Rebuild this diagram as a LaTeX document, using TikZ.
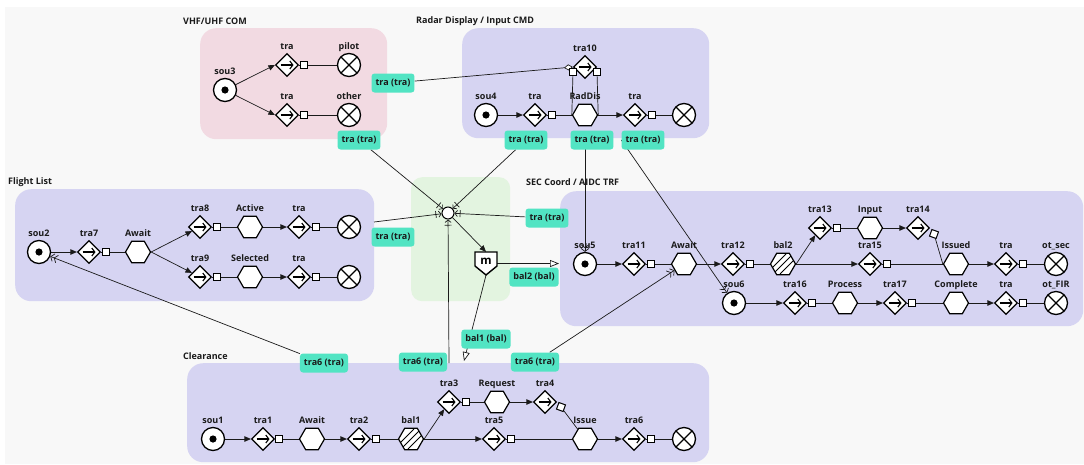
\documentclass[tikz,border=0pt]{standalone}
\usepackage{fontspec}
\setmainfont{Open Sans}
\usetikzlibrary{shapes.geometric,arrows.meta,calc}
\definecolor{bgc}{HTML}{F8F8F8}
\definecolor{pinkbox}{HTML}{F2DAE2}
\definecolor{lavbox}{HTML}{D6D4F2}
\definecolor{greenbox}{HTML}{E3F4E0}
\definecolor{tq}{HTML}{52E4C3}
\definecolor{ink}{HTML}{1A1A1A}
\pgfdeclarelayer{bg}\pgfdeclarelayer{edges}\pgfsetlayers{bg,edges,main}
\begin{document}
\begin{tikzpicture}[x=1pt,y=-1pt,
  font=\fontsize{9}{11}\selectfont\bfseries,
  lbl/.style={inner sep=0.5pt,text height=7pt,text depth=2pt,text=ink},
  tl/.style={label={[lbl,label distance=1pt]above:#1}},
  src/.style={circle,draw,line width=1.3pt,fill=white,minimum size=23pt,inner sep=0,
    path picture={\fill[black] (path picture bounding box.center) circle (3.6pt);}},
  snk/.style={circle,draw,line width=1.3pt,fill=white,minimum size=23pt,inner sep=0,
    path picture={\draw[line width=1.3pt] (path picture bounding box.north west) -- (path picture bounding box.south east)
      (path picture bounding box.north east) -- (path picture bounding box.south west);}},
  trn/.style={diamond,draw,line width=1.2pt,fill=white,minimum width=23pt,minimum height=23pt,inner sep=0,
    path picture={\draw[line width=1.1pt,-{Straight Barb[length=3pt,width=8pt]}]
      ([xshift=-6.5pt]path picture bounding box.center) -- ([xshift=6.5pt]path picture bounding box.center);}},
  sq/.style={rectangle,draw,line width=1pt,fill=white,minimum size=7pt,inner sep=0},
  hex/.style={regular polygon,regular polygon sides=6,draw,line width=1.2pt,fill=white,minimum size=25pt,inner sep=0},
  balh/.style={hex,path picture={\foreach \k in {-7,0,7}{\draw[line width=1pt]
      ([shift={(\k-10,10)}]path picture bounding box.center) -- ([shift={(\k+10,-10)}]path picture bounding box.center);}}},
  con/.style={line width=0.7pt,draw=ink},
  flow/.style={con,-{Triangle[length=6.5pt,width=5.5pt]}},
  hubin/.style={con,-{Bar[width=7pt,sep=2pt]Straight Barb[length=2.5pt,width=6pt]}},
  dbl/.style={con,-{Straight Barb[length=3pt,width=8pt]Straight Barb[length=3pt,width=8pt]}},
  opentri/.style={con,-{Triangle[length=9pt,width=7pt,fill=white]}},
  odia/.style={con,-{Diamond[length=9pt,width=6pt,fill=white]}},
  tag/.style={rectangle,rounded corners=3pt,fill=tq,inner xsep=4pt,inner ysep=0pt,minimum height=19pt,
    text height=7pt,text depth=2pt,text=ink},
  gbox/.style={rectangle,rounded corners=16pt,anchor=north west,inner sep=0},
  gtitle/.style={anchor=west,inner sep=0,text=ink}
]
\useasboundingbox (0,0) rectangle (1084,464);
\begin{pgfonlayer}{bg}
  \fill[white] (0,0) rectangle (1084,464);
  \fill[bgc] (5,7) rectangle (1084,464);
  \node[gbox,fill=pinkbox,minimum width=187pt,minimum height=111pt] (gVHF) at (200,28) {};
  \node[gbox,fill=lavbox,minimum width=247pt,minimum height=110pt] (gRad) at (462,28) {};
  \node[gbox,fill=lavbox,minimum width=359pt,minimum height=112pt] (gFl) at (15,189) {};
  \node[gbox,fill=greenbox,rounded corners=11pt,minimum width=99pt,minimum height=124pt] (gGr) at (411,177) {};
  \node[gbox,fill=lavbox,minimum width=523pt,minimum height=135pt] (gSEC) at (560,191) {};
  \node[gbox,fill=lavbox,minimum width=522pt,minimum height=99pt] (gClr) at (187,363) {};
\end{pgfonlayer}

% titles
\node[gtitle] (tVHF) at (183,21) {VHF/UHF COM};
\node[gtitle] (tRad) at (416,21) {Radar Display / Input CMD};
\node[gtitle] (tFl) at (8,182) {Flight List};
\node[gtitle] (tSEC) at (526,182) {SEC Coord / AIDC TRF};
\node[gtitle] (tClr) at (183,356) {Clearance};

% VHF
\node[src,tl=sou3] (sou3) at (225,90) {};
\node[trn,tl=tra] (v1) at (287,65) {}; \node[sq] (v1s) at (304,65) {};
\node[snk,tl=pilot] (pilot) at (349,65) {};
\node[trn,tl=tra] (v2) at (287,115) {}; \node[sq] (v2s) at (304,115) {};
\node[snk,tl=other] (other) at (349,115) {};

% Radar
\node[trn,tl=tra10] (tra10) at (585,67) {};
\node[sq] (t10l) at (573,72) {}; \node[sq] (t10r) at (597,72) {};
\node[src,tl=sou4] (sou4) at (486,115) {};
\node[trn,tl=tra] (r1) at (535,115) {}; \node[sq] (r1s) at (552,115) {};
\node[hex,tl=RadDis] (raddis) at (585,115) {};
\node[trn,tl=tra] (r2) at (635,115) {}; \node[sq] (r2s) at (652,115) {};
\node[snk] (rsink) at (684,115) {};

% Flight list
\node[src,tl=sou2] (sou2) at (39,252) {};
\node[trn,tl=tra7] (tra7) at (89,252) {}; \node[sq] (tra7s) at (106,252) {};
\node[hex,tl=Await] (awF) at (138,252) {};
\node[trn,tl=tra8] (tra8) at (200,227) {}; \node[sq] (tra8s) at (217,227) {};
\node[hex,tl=Active] (active) at (250,227) {};
\node[trn,tl=tra] (f1) at (299,227) {}; \node[sq] (f1s) at (316,227) {};
\node[snk] (fsink1) at (349,227) {};
\node[trn,tl=tra9] (tra9) at (200,277) {}; \node[sq] (tra9s) at (217,277) {};
\node[hex,tl=Selected] (selected) at (250,277) {};
\node[trn,tl=tra] (f2) at (299,277) {}; \node[sq] (f2s) at (316,277) {};
\node[snk] (fsink2) at (349,277) {};

% hub and merge
\node[circle,draw,line width=1pt,fill=white,minimum size=12pt,inner sep=0] (hub) at (448,213) {};
\draw[line width=1.4pt,fill=white] (475,252) -- (497,252) -- (497,266) -- (486,275) -- (475,266) -- cycle;
\node[rectangle,minimum width=22pt,minimum height=23pt,inner sep=0] (m) at (486,263.5) {};
\node[inner sep=0,font=\fontsize{11.5}{12}\selectfont\bfseries] (mtxt) at (486,261.5) {m};

% SEC
\node[src,tl=sou5] (sou5) at (585,264) {};
\node[trn,tl=tra11] (tra11) at (634,264) {}; \node[sq] (tra11s) at (651,264) {};
\node[hex,tl=Await] (awS) at (684,264) {};
\node[trn,tl=tra12] (tra12) at (733,264) {}; \node[sq] (tra12s) at (750,264) {};
\node[balh,tl=bal2] (bal2) at (783,264) {};
\node[trn,tl=tra13] (tra13) at (820,228) {}; \node[sq] (tra13s) at (837,228) {};
\node[hex,tl=Input] (input) at (870,228) {};
\node[trn,tl=tra14] (tra14) at (918,228) {}; \node[sq,rotate=-20] (tra14s) at (934,234) {};
\node[trn,tl=tra15] (tra15) at (870,264) {}; \node[sq] (tra15s) at (887,264) {};
\node[hex,tl=Issued] (issued) at (956,264) {};
\node[trn,tl=tra] (s1) at (1006,264) {}; \node[sq] (s1s) at (1023,264) {};
\node[snk,tl=ot\_sec] (otsec) at (1056,264) {};
\node[src,tl=sou6] (sou6) at (734,303) {};
\node[trn,tl=tra16] (tra16) at (795,303) {}; \node[sq] (tra16s) at (812,303) {};
\node[hex,tl=Process] (process) at (845,303) {};
\node[trn,tl=tra17] (tra17) at (895,303) {}; \node[sq] (tra17s) at (912,303) {};
\node[hex,tl=Complete] (complete) at (956,303) {};
\node[trn,tl=tra] (s2) at (1006,303) {}; \node[sq] (s2s) at (1023,303) {};
\node[snk,tl=ot\_FIR] (otfir) at (1056,303) {};

% Clearance
\node[src,tl=sou1] (sou1) at (213,439) {};
\node[trn,tl=tra1] (tra1) at (263,439) {}; \node[sq] (tra1s) at (279,439) {};
\node[hex,tl=Await] (awC) at (312,439) {};
\node[trn,tl=tra2] (tra2) at (359,439) {}; \node[sq] (tra2s) at (376,439) {};
\node[balh,tl=bal1] (bal1) at (411,439) {};
\node[trn,tl=tra3] (tra3) at (449,402) {}; \node[sq] (tra3s) at (466,402) {};
\node[hex,tl=Request] (request) at (497,402) {};
\node[trn,tl=tra4] (tra4) at (545,402) {}; \node[sq,rotate=-20] (tra4s) at (561,407) {};
\node[trn,tl=tra5] (tra5) at (494,439) {}; \node[sq] (tra5s) at (511,439) {};
\node[hex,tl=Issue] (issue) at (585,439) {};
\node[trn,tl=tra6] (tra6) at (634,439) {}; \node[sq] (tra6s) at (651,439) {};
\node[snk] (csink) at (684,439) {};

% tags
\node[tag] (tg1) at (393,83) {tra (tra)};
\node[tag] (tg2) at (359,140) {tra (tra)};
\node[tag] (tg3) at (526,140) {tra (tra)};
\node[tag] (tg4) at (592,140) {tra (tra)};
\node[tag] (tg5) at (643,140) {tra (tra)};
\node[tag] (tg6) at (393,237) {tra (tra)};
\node[tag] (tg7) at (547,218) {tra (tra)};
\node[tag] (tg8) at (534,277) {bal2 (bal)};
\node[tag] (tg9) at (486,339) {bal1 (bal)};
\node[tag] (tg10) at (324,363) {tra6 (tra)};
\node[tag] (tg11) at (423,362) {tra6 (tra)};
\node[tag] (tg12) at (535,362) {tra6 (tra)};

\coordinate (flc) at (374,222);
\coordinate (clc) at (449,363);
\coordinate (secin) at (559,263.5);
\coordinate (clin) at (464,361);

\begin{pgfonlayer}{edges}
  % VHF
  \draw[flow] (sou3) -- (v1.west);
  \draw[flow] (sou3) -- (v2.west);
  \draw[con] (v1.east) -- (v1s) -- (pilot);
  \draw[con] (v2.east) -- (v2s) -- (other);
  % Radar
  \draw[flow] (sou4) -- (r1.west);
  \draw[con] (r1.east) -- (r1s) -- (raddis.west);
  \draw[flow] (raddis.east) -- (r2.west);
  \draw[con] (r2.east) -- (r2s) -- (rsink);
  \draw[con] (t10l) -- (raddis.west);
  \draw[con] (t10r) -- (raddis.east);
  % Flight
  \draw[flow] (sou2) -- (tra7.west);
  \draw[con] (tra7.east) -- (tra7s) -- (awF.west);
  \draw[flow] (awF.east) -- (tra8);
  \draw[flow] (awF.east) -- (tra9);
  \draw[con] (tra8.east) -- (tra8s) -- (active.west);
  \draw[flow] (active.east) -- (f1.west);
  \draw[con] (f1.east) -- (f1s) -- (fsink1);
  \draw[con] (tra9.east) -- (tra9s) -- (selected.west);
  \draw[flow] (selected.east) -- (f2.west);
  \draw[con] (f2.east) -- (f2s) -- (fsink2);
  % SEC
  \draw[flow] (sou5) -- (tra11.west);
  \draw[con] (tra11.east) -- (tra11s) -- (awS.west);
  \draw[flow] (awS.east) -- (tra12.west);
  \draw[con] (tra12.east) -- (tra12s) -- (bal2.west);
  \draw[flow] (bal2.east) -- (tra13);
  \draw[flow] (bal2.east) -- (tra15.west);
  \draw[con] (tra13.east) -- (tra13s) -- (input.west);
  \draw[flow] (input.east) -- (tra14.west);
  \draw[con] (tra14s) -- (issued.west);
  \draw[con] (tra15.east) -- (tra15s) -- (issued.west);
  \draw[flow] (issued.east) -- (s1.west);
  \draw[con] (s1.east) -- (s1s) -- (otsec);
  \draw[flow] (sou6) -- (tra16.west);
  \draw[con] (tra16.east) -- (tra16s) -- (process.west);
  \draw[flow] (process.east) -- (tra17.west);
  \draw[con] (tra17.east) -- (tra17s) -- (complete.west);
  \draw[flow] (complete.east) -- (s2.west);
  \draw[con] (s2.east) -- (s2s) -- (otfir);
  % Clearance
  \draw[flow] (sou1) -- (tra1.west);
  \draw[con] (tra1.east) -- (tra1s) -- (awC.west);
  \draw[flow] (awC.east) -- (tra2.west);
  \draw[con] (tra2.east) -- (tra2s) -- (bal1.west);
  \draw[flow] (bal1.east) -- (tra3);
  \draw[flow] (bal1.east) -- (tra5.west);
  \draw[con] (tra3.east) -- (tra3s) -- (request.west);
  \draw[flow] (request.east) -- (tra4.west);
  \draw[con] (tra4s) -- (issue);
  \draw[con] (tra5.east) -- (tra5s) -- (issue.west);
  \draw[flow] (issue.east) -- (tra6.west);
  \draw[con] (tra6.east) -- (tra6s) -- (csink);
  % hub
  \draw[hubin] (tg2) -- (hub);
  \draw[hubin] (tg3) -- (hub);
  \draw[hubin] (flc) -- (hub);
  \draw[hubin] (tg7) -- (hub);
  \draw[hubin] (clc) -- (hub);
  \draw[flow] (hub) -- (m.north);
  \draw[opentri] (m.east) -- (secin);
  \draw[opentri] (m.south) -- (clin);
  % inter-group
  \draw[odia] (tg1) -- (tra10.west);
  \draw[dbl] (sou5 |- tg4) -- (sou5.north);
  \draw[dbl] (tg5.west) -- (sou6);
  \draw[dbl] (tg10) -- (sou2);
  \draw[dbl] (tg12) -- (awS);
\end{pgfonlayer}
\end{tikzpicture}
\end{document}
